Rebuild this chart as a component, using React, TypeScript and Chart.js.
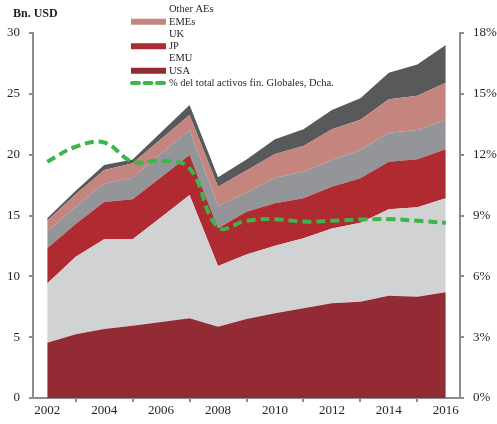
import React, { useEffect, useRef } from "react";
import { Chart, registerables } from "chart.js";

Chart.register(...registerables);

const years = ["2002", "2003", "2004", "2005", "2006", "2007", "2008", "2009", "2010", "2011", "2012", "2013", "2014", "2015", "2016"];

// Bn. USD, stacked layers (bottom to top)
const usa = [4.55, 5.24, 5.67, 5.94, 6.25, 6.55, 5.86, 6.49, 6.96, 7.37, 7.78, 7.92, 8.41, 8.33, 8.69];
const emu = [4.87, 6.36, 7.37, 7.1, 8.61, 10.13, 4.99, 5.31, 5.56, 5.75, 6.16, 6.49, 7.1, 7.34, 7.72];
const jp = [2.88, 2.7, 3.06, 3.29, 3.29, 3.29, 3.1, 3.5, 3.48, 3.29, 3.43, 3.65, 3.91, 3.95, 4.04];
const uk = [1.37, 1.42, 1.54, 1.77, 1.92, 2.06, 1.83, 1.6, 2.1, 2.19, 2.18, 2.32, 2.39, 2.41, 2.4];
const emes = [0.9, 1.02, 1.1, 1.19, 1.21, 1.23, 1.59, 1.8, 1.95, 2.11, 2.53, 2.5, 2.74, 2.82, 3.07];
const otherAEs = [0.2, 0.3, 0.41, 0.31, 0.56, 0.82, 0.77, 0.9, 1.21, 1.37, 1.59, 1.75, 2.19, 2.57, 3.09];

// % of global financial assets, right axis
const share = [11.65, 12.39, 12.6, 11.65, 11.7, 11.33, 8.42, 8.74, 8.82, 8.7, 8.74, 8.8, 8.82, 8.74, 8.64];

const leftTicks = [0, 5, 10, 15, 20, 25, 30];
const rightTicks = [0, 3, 6, 9, 12, 15, 18];

const titleText = "Bn. USD";
const legendLabels = ["Other AEs", "EMEs", "UK", "JP", "EMU", "USA"];
const legendSwatch = [false, true, false, true, false, true];
const shareLabel = "% del total activos fin. Globales, Dcha.";

const C_USA = "#922b33";
const C_EMU = "#d1d2d4";
const C_JP = "#b02a32";
const C_UK = "#939598";
const C_EMES = "#c5857f";
const C_OTHER = "#58595b";
const C_GREEN = "#3db54a";
const AXIS = "#8c8c8c";
const TEXT = "#231f20";
const FONT = "'Liberation Serif', 'Times New Roman', serif";

const legendColors = [C_OTHER, C_EMES, C_UK, C_JP, C_EMU, C_USA];

const overlay = {
  id: "overlay",
  afterDraw(chart: any) {
    const ctx = chart.ctx;
    ctx.save();
    ctx.fillStyle = TEXT;
    ctx.font = `bold 12px ${FONT}`;
    ctx.textBaseline = "alphabetic";
    ctx.textAlign = "left";
    ctx.fillText(titleText, 13, 17);

    ctx.font = `10.5px ${FONT}`;
    ctx.textBaseline = "middle";
    const x0 = 131;
    const sw = 35;
    const tx = 169;
    const rowY = (i: number) => 9.5 + i * 12.25;
    legendLabels.forEach((lab, i) => {
      const y = rowY(i);
      if (legendSwatch[i]) {
        ctx.fillStyle = legendColors[i];
        ctx.fillRect(x0, y - 3, sw, 6);
      }
      ctx.fillStyle = TEXT;
      ctx.fillText(lab, tx, y);
    });
    const gy = rowY(legendLabels.length);
    ctx.strokeStyle = C_GREEN;
    ctx.lineWidth = 4;
    ctx.lineCap = "round";
    for (let k = 0; k < 3; k++) {
      ctx.beginPath();
      ctx.moveTo(x0 + 1 + k * 12.5, gy);
      ctx.lineTo(x0 + 8 + k * 12.5, gy);
      ctx.stroke();
    }
    ctx.fillStyle = TEXT;
    ctx.fillText(shareLabel, tx, gy);
    ctx.restore();
  },
};

export default function App() {
  const ref = useRef<HTMLCanvasElement | null>(null);
  useEffect(() => {
    if (!ref.current) return;
    Chart.defaults.font.family = FONT;
    Chart.defaults.color = TEXT;
    const area = (label: string, data: number[], color: string, fill: any) => ({
      type: "line" as const,
      label,
      data,
      backgroundColor: color,
      borderColor: color,
      borderWidth: 0,
      pointRadius: 0,
      tension: 0,
      fill,
      yAxisID: "y",
      order: 1,
    });
    const chart = new Chart(ref.current, {
      type: "line",
      data: {
        labels: years,
        datasets: [
          area("USA", usa, C_USA, "origin"),
          area("EMU", emu, C_EMU, "-1"),
          area("JP", jp, C_JP, "-1"),
          area("UK", uk, C_UK, "-1"),
          area("EMEs", emes, C_EMES, "-1"),
          area("Other AEs", otherAEs, C_OTHER, "-1"),
          {
            type: "line",
            label: shareLabel,
            data: share,
            borderColor: C_GREEN,
            backgroundColor: C_GREEN,
            borderWidth: 4,
            borderDash: [9, 5],
            pointRadius: 0,
            tension: 0.4,
            fill: false,
            yAxisID: "y1",
            order: 0,
          },
        ],
      },
      options: {
        responsive: false,
        animation: false,
        layout: { padding: { top: 33, left: 0, right: 0, bottom: 0 } },
        plugins: { legend: { display: false }, tooltip: { enabled: false }, title: { display: false } },
        scales: {
          x: {
            type: "category",
            offset: true,
            grid: { offset: true, drawOnChartArea: false, tickLength: 4, color: AXIS, lineWidth: 2 },
            border: { color: AXIS, width: 2 },
            ticks: {
              autoSkip: false,
              maxRotation: 0,
              padding: 1,
              font: { size: 13 },
              color: TEXT,
              callback: (_v: any, i: number) => (i % 2 === 0 ? years[i] : null),
            },
            afterFit: (s: any) => { s.height = 26; },
          },
          y: {
            type: "linear",
            position: "left",
            stacked: true,
            min: leftTicks[0],
            max: leftTicks[leftTicks.length - 1],
            afterBuildTicks: (s: any) => { s.ticks = leftTicks.map((v) => ({ value: v })); },
            grid: { drawOnChartArea: false, tickLength: 4, color: AXIS, lineWidth: 2 },
            border: { color: AXIS, width: 2 },
            ticks: { padding: 9, font: { size: 13 }, color: TEXT },
            afterFit: (s: any) => { s.width = 33; },
          },
          y1: {
            type: "linear",
            position: "right",
            stacked: false,
            min: rightTicks[0],
            max: rightTicks[rightTicks.length - 1],
            afterBuildTicks: (s: any) => { s.ticks = rightTicks.map((v) => ({ value: v })); },
            grid: { drawOnChartArea: false, tickLength: 4, color: AXIS, lineWidth: 2 },
            border: { color: AXIS, width: 2 },
            ticks: { padding: 9, font: { size: 13 }, color: TEXT, callback: (v: any) => `${v}%` },
            afterFit: (s: any) => { s.width = 37; },
          },
        },
      },
      plugins: [overlay],
    } as any);
    return () => chart.destroy();
  }, []);
  return (
    <div style={{ position: "fixed", left: 0, top: 0, width: 497, height: 424, background: "#fff" }}>
      <canvas ref={ref} width={497} height={424} style={{ display: "block" }} />
    </div>
  );
}
